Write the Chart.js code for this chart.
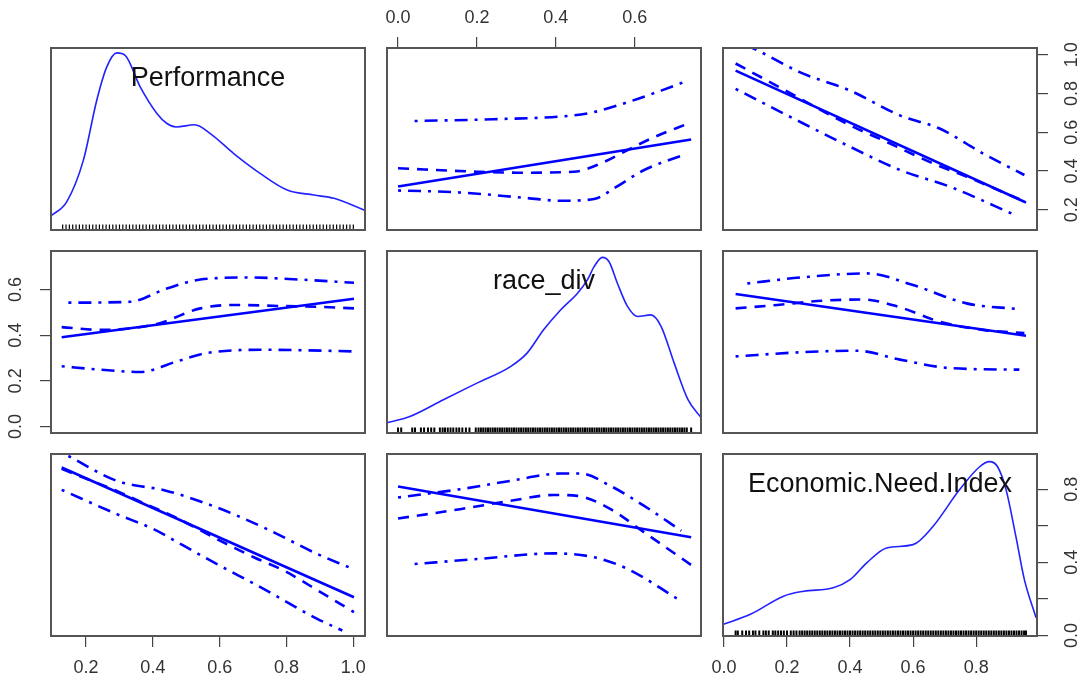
<!DOCTYPE html>
<html>
<head>
<meta charset="utf-8">
<title>Scatterplot matrix</title>
<script src="https://cdn.jsdelivr.net/npm/chart.js@4/dist/chart.umd.min.js"></script>
<style>
  html, body { margin: 0; padding: 0; background: #fff; overflow: hidden; }
  #matrix { position: relative; width: 1080px; height: 679px; }
  #matrix canvas { position: absolute; }
</style>
</head>
<body>
<div id="matrix"></div>
<script>
// axis limits of each variable (shared by its row and its column)
const perfRange = [0.095, 1.035];
const raceRange = [-0.028, 0.768];
const econRange = [-0.003, 0.993];

// tick values and labels
const perfTicks = [0.2, 0.4, 0.6, 0.8, 1.0];
const perfTickLabels = ["0.2", "0.4", "0.6", "0.8", "1.0"];
const raceTicks = [0.0, 0.2, 0.4, 0.6];
const raceTickLabels = ["0.0", "0.2", "0.4", "0.6"];
const econTicks = [0.0, 0.2, 0.4, 0.6, 0.8];
const econTickLabels = ["0.0", "0.2", "0.4", "0.6", "0.8"];
const econSideLabels = ["0.0", "", "0.4", "", "0.8"];

// diagonal: scaled density curves
const perfDensX = [0.094, 0.142, 0.192, 0.232, 0.262, 0.292, 0.317, 0.362, 0.412, 0.442, 0.47, 0.525, 0.572, 0.642, 0.722, 0.802, 0.882, 0.942, 1.037];
const perfDensY = [0.077, 0.155, 0.384, 0.713, 0.896, 0.973, 0.96, 0.786, 0.64, 0.585, 0.566, 0.578, 0.53, 0.42, 0.31, 0.22, 0.192, 0.174, 0.106];
const raceDensX = [-0.03, 0.03, 0.115, 0.2, 0.285, 0.327, 0.369, 0.412, 0.455, 0.48, 0.497, 0.518, 0.535, 0.556, 0.582, 0.607, 0.641, 0.667, 0.7, 0.735, 0.769];
const raceDensY = [0.055, 0.091, 0.183, 0.274, 0.365, 0.439, 0.567, 0.676, 0.768, 0.841, 0.914, 0.965, 0.941, 0.823, 0.694, 0.64, 0.649, 0.585, 0.384, 0.183, 0.082];
const econDensX = [-0.002, 0.084, 0.189, 0.253, 0.347, 0.4, 0.453, 0.516, 0.6, 0.663, 0.747, 0.811, 0.842, 0.868, 0.895, 0.926, 0.953, 0.99];
const econDensY = [0.064, 0.119, 0.219, 0.246, 0.265, 0.31, 0.402, 0.484, 0.502, 0.602, 0.803, 0.93, 0.958, 0.93, 0.803, 0.547, 0.31, 0.1];

// rug values
const perfRug = [0.13, 0.14, 0.15, 0.16, 0.17, 0.18, 0.19, 0.20, 0.21, 0.22, 0.23, 0.24, 0.25, 0.26, 0.27, 0.28, 0.29, 0.30, 0.31, 0.32, 0.33, 0.34, 0.35, 0.36, 0.37, 0.38, 0.39, 0.40, 0.41, 0.42, 0.43, 0.44, 0.45, 0.46, 0.47, 0.48, 0.49, 0.50, 0.51, 0.52, 0.53, 0.54, 0.55, 0.56, 0.57, 0.58, 0.59, 0.60, 0.61, 0.62, 0.63, 0.64, 0.65, 0.66, 0.67, 0.68, 0.69, 0.70, 0.71, 0.72, 0.73, 0.74, 0.75, 0.76, 0.77, 0.78, 0.79, 0.80, 0.81, 0.82, 0.83, 0.84, 0.85, 0.86, 0.87, 0.88, 0.89, 0.90, 0.91, 0.92, 0.93, 0.94, 0.95, 0.96, 0.97, 0.98, 0.99, 1.00];
const raceRug = [0.000, 0.008, 0.036, 0.043, 0.058, 0.066, 0.076, 0.084, 0.092, 0.106, 0.113, 0.119, 0.126, 0.133, 0.140, 0.148, 0.155, 0.163, 0.172, 0.181, 0.197,
  0.204, 0.210, 0.216, 0.222, 0.228, 0.234, 0.240, 0.246, 0.252, 0.258, 0.264, 0.270, 0.276, 0.282, 0.288, 0.294, 0.300, 0.306, 0.312, 0.318, 0.324, 0.330, 0.336, 0.342, 0.348, 0.354, 0.360, 0.366, 0.372, 0.378, 0.384, 0.390, 0.396, 0.402, 0.408, 0.414, 0.420, 0.426, 0.432, 0.438, 0.444, 0.450, 0.456, 0.462, 0.468, 0.474, 0.480, 0.486, 0.492, 0.498, 0.504, 0.510, 0.516, 0.522, 0.528, 0.534, 0.540, 0.546, 0.552, 0.558, 0.564, 0.570, 0.576, 0.582, 0.588, 0.594, 0.600, 0.606, 0.612, 0.618, 0.624, 0.630, 0.636, 0.642, 0.648, 0.654, 0.660, 0.666, 0.672, 0.678, 0.684, 0.690, 0.696, 0.702, 0.708, 0.714, 0.720, 0.726, 0.732, 0.743];
const econRug = [0.037, 0.044, 0.058, 0.070, 0.080, 0.092, 0.100, 0.112, 0.125, 0.133, 0.142, 0.155, 0.163, 0.172, 0.181, 0.190, 0.200, 0.212, 0.221, 0.230,
  0.240, 0.248, 0.256, 0.264, 0.272, 0.280, 0.288, 0.296, 0.304, 0.312, 0.320, 0.328, 0.336, 0.344, 0.352, 0.360, 0.368, 0.376, 0.384, 0.392, 0.400, 0.408, 0.416, 0.424, 0.432, 0.440, 0.448, 0.456, 0.464, 0.472, 0.480, 0.488, 0.496, 0.504, 0.512, 0.520, 0.528, 0.536, 0.544, 0.552, 0.560, 0.568, 0.576, 0.584, 0.592, 0.600, 0.608, 0.616, 0.624, 0.632, 0.640, 0.648, 0.656, 0.664, 0.672, 0.680, 0.688, 0.696, 0.704, 0.712, 0.720, 0.728, 0.736, 0.744, 0.752, 0.760, 0.768, 0.776, 0.784, 0.792, 0.800, 0.808, 0.816, 0.824, 0.832, 0.840, 0.848, 0.856, 0.864, 0.872, 0.880, 0.888, 0.896, 0.904, 0.912, 0.920, 0.928, 0.936, 0.944, 0.952, 0.958];

// off-diagonal panels: [x, y] pairs for linear fit, smooth, upper / lower spread
const racePerfFit = [[0.0, 0.32], [0.743, 0.562]];
const racePerfSmooth = [[0.0, 0.414], [0.2, 0.396], [0.302, 0.391], [0.446, 0.396], [0.514, 0.439], [0.582, 0.508], [0.642, 0.568], [0.739, 0.648]];
const racePerfUpper = [[0.042, 0.658], [0.241, 0.667], [0.446, 0.687], [0.497, 0.704], [0.582, 0.755], [0.667, 0.815], [0.735, 0.867]];
const racePerfLower = [[0.0, 0.299], [0.157, 0.289], [0.327, 0.26], [0.412, 0.246], [0.497, 0.255], [0.548, 0.311], [0.624, 0.405], [0.73, 0.487]];

const econPerfFit = [[0.037, 0.918], [0.958, 0.237]];
const econPerfSmooth = [[0.037, 0.955], [0.137, 0.867], [0.4, 0.636], [0.516, 0.55], [0.663, 0.439], [0.769, 0.371], [0.953, 0.243]];
const econPerfUpper = [[0.037, 1.075], [0.105, 1.024], [0.242, 0.909], [0.4, 0.815], [0.558, 0.687], [0.684, 0.619], [0.821, 0.491], [0.953, 0.379]];
const econPerfLower = [[0.037, 0.824], [0.242, 0.653], [0.4, 0.525], [0.558, 0.405], [0.716, 0.319], [0.921, 0.174]];

const perfRaceFit = [[0.127, 0.391], [1.002, 0.559]];
const perfRaceSmooth = [[0.127, 0.435], [0.242, 0.423], [0.412, 0.449], [0.542, 0.517], [0.642, 0.532], [0.792, 0.527], [0.892, 0.524], [1.002, 0.517]];
const perfRaceUpper = [[0.147, 0.542], [0.332, 0.546], [0.442, 0.604], [0.542, 0.643], [0.692, 0.652], [0.842, 0.643], [1.002, 0.629]];
const perfRaceLower = [[0.127, 0.264], [0.242, 0.249], [0.362, 0.239], [0.472, 0.285], [0.562, 0.322], [0.742, 0.336], [1.002, 0.329]];

const econRaceFit = [[0.037, 0.58], [0.958, 0.397]];
const econRaceSmooth = [[0.037, 0.517], [0.169, 0.532], [0.295, 0.549], [0.442, 0.556], [0.558, 0.522], [0.684, 0.459], [0.821, 0.423], [0.953, 0.409]];
const econRaceUpper = [[0.074, 0.626], [0.242, 0.652], [0.453, 0.67], [0.6, 0.619], [0.769, 0.539], [0.932, 0.514]];
const econRaceLower = [[0.037, 0.307], [0.242, 0.325], [0.421, 0.332], [0.558, 0.293], [0.716, 0.256], [0.937, 0.249]];

const perfEconFit = [[0.127, 0.919], [1.002, 0.209]];
const perfEconSmooth = [[0.127, 0.912], [0.192, 0.864], [0.292, 0.791], [0.372, 0.724], [0.462, 0.651], [0.602, 0.518], [0.702, 0.428], [0.792, 0.355], [0.902, 0.237], [1.002, 0.128]];
const perfEconUpper = [[0.147, 0.982], [0.292, 0.846], [0.442, 0.791], [0.592, 0.7], [0.742, 0.582], [0.892, 0.446], [0.987, 0.373]];
const perfEconLower = [[0.127, 0.797], [0.292, 0.664], [0.402, 0.582], [0.492, 0.491], [0.592, 0.39], [0.722, 0.264], [0.892, 0.091], [0.967, 0.027]];

const raceEconFit = [[0.0, 0.815], [0.743, 0.537]];
const raceEconSmooth = [[0.0, 0.64], [0.157, 0.691], [0.285, 0.737], [0.395, 0.769], [0.455, 0.764], [0.539, 0.691], [0.624, 0.564], [0.743, 0.386]];
const raceEconUpper = [[0.0, 0.755], [0.157, 0.8], [0.285, 0.846], [0.412, 0.886], [0.463, 0.886], [0.539, 0.818], [0.624, 0.709], [0.718, 0.573]];
const raceEconLower = [[0.042, 0.391], [0.2, 0.418], [0.395, 0.449], [0.497, 0.428], [0.582, 0.364], [0.709, 0.2]];


// ---- layout ----
const M = 45;                       // canvas margin round each panel
const panelLeft = [51, 387, 723];
const panelTop = [48, 251, 454];
const panelW = 314, panelH = 182;
const FONT = "'Liberation Sans', Arial, sans-serif";
const BLUE = "#0000ff";
const tickPad = { top: 8, bottom: 10, left: 11, right: 12 };
const rugWidth = [1.2, 2, 2];

const vars = [
    { name: "Performance", range: perfRange, ticks: perfTicks, densX: perfDensX, densY: perfDensY, rug: perfRug },
    { name: "race_div", range: raceRange, ticks: raceTicks, densX: raceDensX, densY: raceDensY, rug: raceRug },
    { name: "Economic.Need.Index", range: econRange, ticks: econTicks, densX: econDensX, densY: econDensY, rug: econRug }
];

const pairLines = {
    "0,1": [racePerfFit, racePerfSmooth, racePerfUpper, racePerfLower],
    "0,2": [econPerfFit, econPerfSmooth, econPerfUpper, econPerfLower],
    "1,0": [perfRaceFit, perfRaceSmooth, perfRaceUpper, perfRaceLower],
    "1,2": [econRaceFit, econRaceSmooth, econRaceUpper, econRaceLower],
    "2,0": [perfEconFit, perfEconSmooth, perfEconUpper, perfEconLower],
    "2,1": [raceEconFit, raceEconSmooth, raceEconUpper, raceEconLower]
};

// which panels carry an axis, and on which side
const xAxes = { "0,1": ["top", raceTickLabels], "2,0": ["bottom", perfTickLabels], "2,2": ["bottom", econTickLabels] };
const yAxes = { "0,2": ["right", perfTickLabels], "1,0": ["left", raceTickLabels], "2,2": ["right", econSideLabels] };

// panel box + variable name on the diagonal
const framePlugin = {
    id: "frame",
    afterDraw(chart, args, opts) {
        const { ctx, chartArea: a } = chart;
        ctx.save();
        if (opts.title) {
            ctx.font = "27px " + FONT;
            ctx.fillStyle = "#111";
            ctx.textAlign = "center";
            ctx.textBaseline = "middle";
            ctx.fillText(opts.title, (a.left + a.right) / 2, a.top + 31);
        }
        ctx.strokeStyle = "#555";
        ctx.lineWidth = 2;
        ctx.strokeRect(a.left, a.top, a.right - a.left, a.bottom - a.top);
        ctx.restore();
    }
};

function makeScale(range, ticks, axis, horizontal) {
    const scale = { type: "linear", min: range[0], max: range[1], display: false };
    if (!axis) return scale;
    const [pos, labels] = axis;
    return Object.assign(scale, {
        display: true,
        position: pos,
        afterBuildTicks: s => { s.ticks = ticks.map(v => ({ value: v })); },
        afterFit: s => { if (horizontal) s.height = M; else s.width = M; },
        border: { display: false },
        grid: { drawOnChartArea: false, drawTicks: true, tickLength: 11, color: "#444", lineWidth: 1.2 },
        ticks: {
            autoSkip: false,
            padding: tickPad[pos],
            minRotation: horizontal ? 0 : 90,
            maxRotation: horizontal ? 0 : 90,
            crossAlign: horizontal ? "near" : "center",
            color: "#333",
            font: { family: FONT, size: 18 },
            callback: (v, i) => labels[i]
        }
    });
}

function lineSet(pairs, dash, curved) {
    return {
        data: pairs.map(p => ({ x: p[0], y: p[1] })),
        showLine: true,
        borderColor: BLUE,
        borderWidth: 2.6,
        borderDash: dash,
        pointRadius: 0,
        cubicInterpolationMode: curved ? "monotone" : "default",
        clip: 0
    };
}

function renderPanel(r, c) {
    const key = r + "," + c;
    const canvas = document.createElement("canvas");
    canvas.width = panelW + 2 * M;
    canvas.height = panelH + 2 * M;
    canvas.style.left = (panelLeft[c] - M) + "px";
    canvas.style.top = (panelTop[r] - M) + "px";
    document.getElementById("matrix").appendChild(canvas);

    const xv = vars[c], yv = vars[r];
    const xAxis = xAxes[key], yAxis = yAxes[key];
    const sides = [xAxis && xAxis[0], yAxis && yAxis[0]];
    const pad = {};
    ["top", "bottom", "left", "right"].forEach(s => { pad[s] = sides.includes(s) ? 0 : M; });

    const scales = {
        x: makeScale(xv.range, xv.ticks, xAxis, true),
        y: makeScale(yv.range, yv.ticks, yAxis, false)
    };

    let datasets;
    if (r === c) {
        scales.d = { type: "linear", min: 0, max: 1, display: false, position: "left" };
        datasets = [
            {
                data: xv.densX.map((x, i) => ({ x, y: xv.densY[i] })),
                yAxisID: "d",
                showLine: true,
                borderColor: "#2222ff",
                borderWidth: 1.6,
                pointRadius: 0,
                cubicInterpolationMode: "monotone",
                clip: 0
            },
            {
                data: xv.rug.map(x => ({ x, y: 0 })),
                yAxisID: "d",
                showLine: false,
                pointStyle: "line",
                pointRotation: 90,
                pointRadius: 5.5,
                pointBorderColor: "#000",
                pointBorderWidth: rugWidth[c],
                clip: 0
            }
        ];
    } else {
        const [fit, smooth, upper, lower] = pairLines[key];
        datasets = [
            lineSet(fit, [], false),
            lineSet(smooth, [11, 8], true),
            lineSet(upper, [3, 7, 13, 7], true),
            lineSet(lower, [3, 7, 13, 7], true)
        ];
    }

    new Chart(canvas, {
        type: "scatter",
        data: { datasets },
        options: {
            responsive: false,
            devicePixelRatio: 1,
            animation: false,
            events: [],
            layout: { padding: pad },
            scales,
            plugins: {
                legend: { display: false },
                tooltip: { enabled: false },
                frame: { title: r === c ? xv.name : null }
            }
        },
        plugins: [framePlugin]
    });
}

for (let r = 0; r < 3; r++) {
    for (let c = 0; c < 3; c++) {
        renderPanel(r, c);
    }
}
</script>
</body>
</html>
